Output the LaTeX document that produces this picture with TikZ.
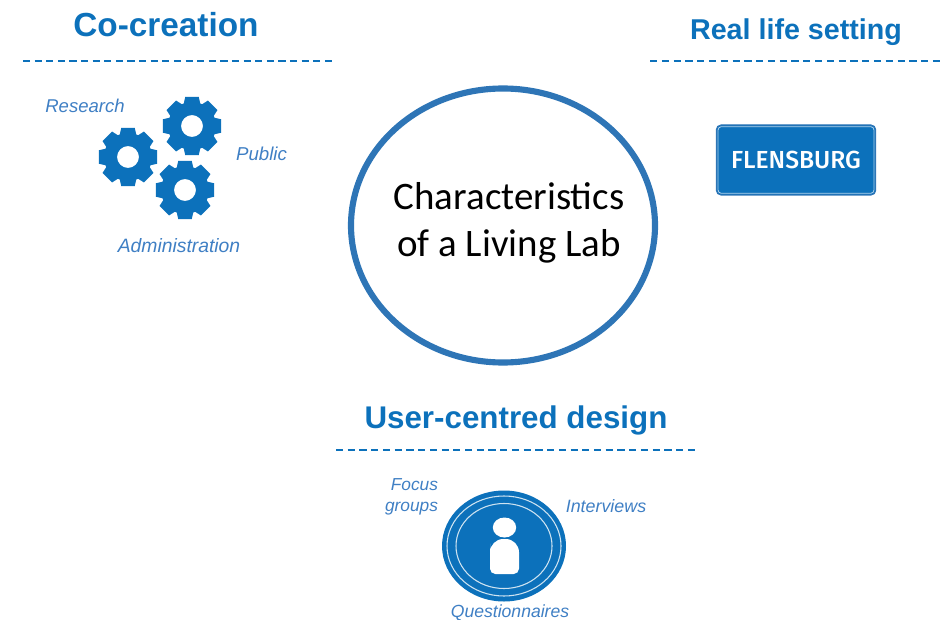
\documentclass[tikz,border=0pt]{standalone}
\usepackage{fontspec}
\setmainfont{Liberation Sans}
\newfontfamily\calfont{Carlito}
\newfontfamily\signfont{Fira Sans Medium}
\definecolor{brandblue}{HTML}{0C71BB}
\definecolor{ringblue}{HTML}{2E75B6}
\definecolor{labelblue}{HTML}{3F7FC4}
\newcommand{\gearshape}[2]{%
  \fill[brandblue,even odd rule,shift={(#1,#2)}]
    (-13:30) -- (13:30) -- (20:24) -- (25:24)
    -- (32:30) -- (58:30) -- (65:24) -- (70:24)
    -- (77:30) -- (103:30) -- (110:24) -- (115:24)
    -- (122:30) -- (148:30) -- (155:24) -- (160:24)
    -- (167:30) -- (193:30) -- (200:24) -- (205:24)
    -- (212:30) -- (238:30) -- (245:24) -- (250:24)
    -- (257:30) -- (283:30) -- (290:24) -- (295:24)
    -- (302:30) -- (328:30) -- (335:24) -- (340:24) -- cycle
    (0,0) circle (11);}
\tikzset{
  x=0.75pt,y=-0.75pt,
  heading/.style={text=brandblue,font=\bfseries,inner sep=0pt,anchor=center},
  sublabel/.style={text=labelblue,inner sep=0pt,anchor=center},
  dashline/.style={draw=brandblue,line width=1.7pt,dash pattern=on 5.4pt off #1}
}
\begin{document}
\begin{tikzpicture}
\useasboundingbox (0,0) rectangle (948,620);
% central circle
\draw[ringblue,line width=4.6pt,fill=white] (503,225.5) ellipse [x radius=152,y radius=137];
\node[inner sep=0pt,align=center,font=\calfont\fontsize{29.2}{35}\selectfont] (title) at (509,223) {Characteristics\\of a Living Lab};
% headings and rules
\node[heading,font=\bfseries\fontsize{25}{30}\selectfont] (cocreation) at (166,24.5) {Co-creation};
\coordinate (cl) at (23,61); \coordinate (cr) at (332,61);
\draw[dashline=3.306pt] (cl) -- (cr);
\node[heading,font=\bfseries\fontsize{21.5}{26}\selectfont] (real) at (796,32) {Real life setting};
\coordinate (rl) at (650,61); \coordinate (rr) at (940,61);
\draw[dashline=3.44pt] (rl) -- (rr);
\node[heading,font=\bfseries\fontsize{23.5}{28}\selectfont] (user) at (516,420) {User-centred design};
\coordinate (ul) at (336,450); \coordinate (ur) at (695,450);
\draw[dashline=3.395pt] (ul) -- (ur);
% gears
\gearshape{128}{157}
\gearshape{192}{126}
\gearshape{185}{190}
\node[sublabel,font=\itshape\fontsize{13.9}{16}\selectfont] (research) at (85,106) {Research};
\node[sublabel,font=\itshape\fontsize{14}{16}\selectfont] (public) at (261.5,154) {Public};
\node[sublabel,font=\itshape\fontsize{14.5}{16}\selectfont] (admin) at (179,246) {Administration};
% sign
\node[draw=ringblue,fill=brandblue,line width=0.8pt,rounded corners=3.5pt,minimum width=119.5pt,minimum height=52.5pt,inner sep=0pt,
      text=white,font=\signfont\fontsize{18.5}{22}\selectfont] (sign) at (796,160) {FLENSBURG};
\draw[white!70!brandblue,line width=0.6pt,rounded corners=2.5pt] ([shift={(2.2,2.2)}]sign.north west) rectangle ([shift={(-2.2,-2.2)}]sign.south east);
% user icon
\fill[brandblue] (504,546) ellipse [x radius=62,y radius=55.5];
\draw[white!80!brandblue,line width=0.8pt] (504,546) ellipse [x radius=57,y radius=50];
\draw[white!80!brandblue,line width=0.8pt] (504,546) ellipse [x radius=48,y radius=42.5];
\fill[white] (504.5,527.5) ellipse [x radius=11.7,y radius=10];
\fill[white,rounded corners=4pt] (490,574) -- (490,549) [rounded corners=10pt] -- (490,539) -- (519,539) [rounded corners=4pt] -- (519,574) -- cycle;
\node[sublabel,align=right,font=\itshape\fontsize{13}{15.5}\selectfont] (focus) at (411.5,497) {Focus\\groups};
\node[sublabel,font=\itshape\fontsize{13.4}{16}\selectfont] (interviews) at (606,506) {Interviews};
\node[sublabel,font=\itshape\fontsize{13.2}{16}\selectfont] (quest) at (510,612.5) {Questionnaires};
\end{tikzpicture}
\end{document}
